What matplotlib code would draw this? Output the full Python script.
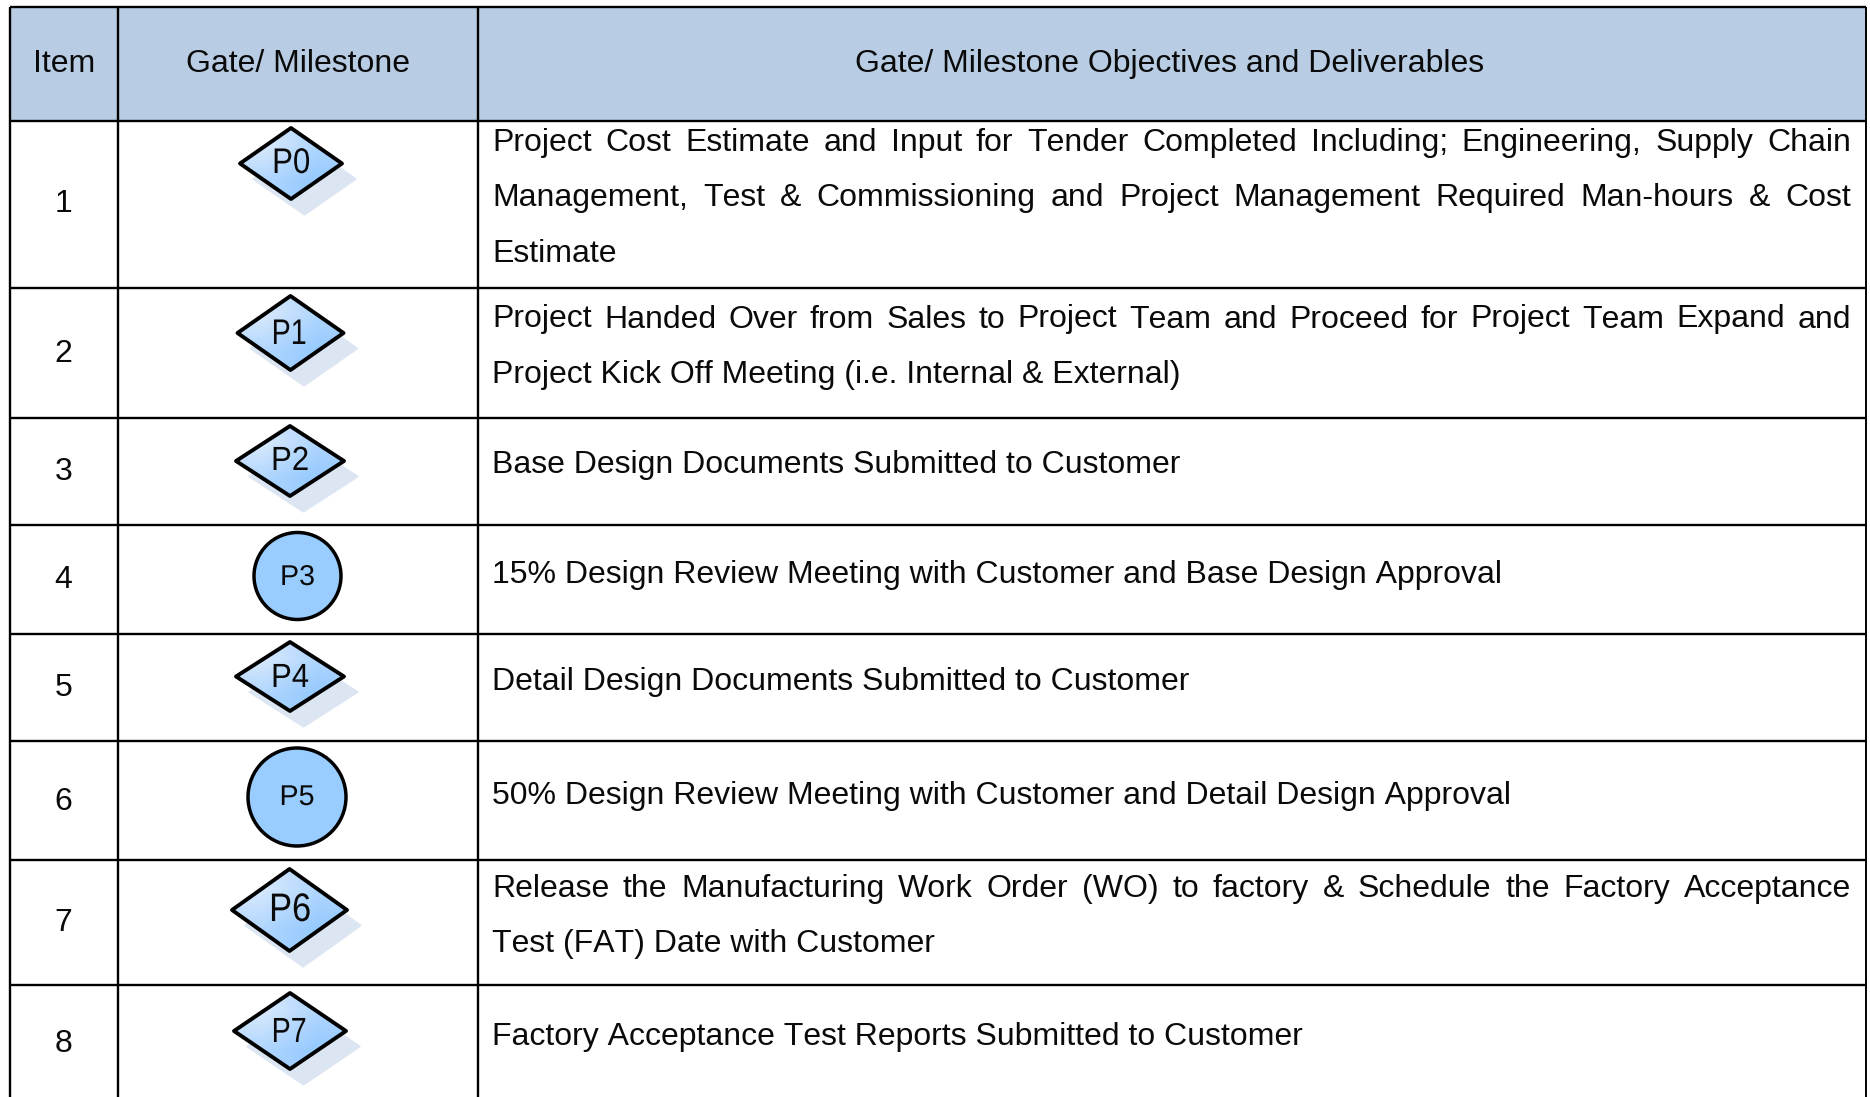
import matplotlib
matplotlib.use("Agg")
import matplotlib.pyplot as plt
import numpy as np
from matplotlib.colors import to_rgb
from matplotlib.patches import Circle, Polygon, Rectangle
from matplotlib.patheffects import AbstractPathEffect
from matplotlib.transforms import Affine2D

plt.rcParams["font.family"] = ["Liberation Sans", "DejaVu Sans"]
plt.rcParams["text.kerning_factor"] = 6

# Inhalt der Tabelle
headers = ["Item", "Gate/ Milestone", "Gate/ Milestone Objectives and Deliverables"]
items = ["1", "2", "3", "4", "5", "6", "7", "8"]
gates = ["P0", "P1", "P2", "P3", "P4", "P5", "P6", "P7"]
gate_shapes = ["d", "d", "d", "o", "d", "o", "d", "d"]
deliverables = [
    ["Project Cost Estimate and Input for Tender Completed Including; Engineering, Supply Chain",
     "Management, Test & Commissioning and Project Management Required Man-hours & Cost",
     "Estimate"],
    ["Project Handed Over from Sales to Project Team and Proceed for Project Team Expand and",
     "Project Kick Off Meeting (i.e. Internal & External)"],
    ["Base Design Documents Submitted to Customer"],
    ["15% Design Review Meeting with Customer and Base Design Approval"],
    ["Detail Design Documents Submitted to Customer"],
    ["50% Design Review Meeting with Customer and Detail Design Approval"],
    ["Release the Manufacturing Work Order (WO) to factory & Schedule the Factory Acceptance",
     "Test (FAT) Date with Customer"],
    ["Factory Acceptance Test Reports Submitted to Customer"],
]

# Layout in Pixeln des Originals
W, H = 1870, 1097
col_x = [10, 118, 478, 1866]
row_y = [7, 120.5, 287.5, 417.5, 525, 634, 740.5, 860, 985]
header_base = 72
item_base = [212.5, 362, 480.5, 587.5, 696, 809.5, 931, 1051.5]
text_base = [[150.7, 205.7, 261.7], [327.5, 382.5], [473], [582.5], [690], [804], [897, 952], [1044.5]]
text_left, text_right = 492, 1851
FS = 23.05

# Gate-Symbole: Mitte x, Mitte y, halbe Breite, halbe Höhe
gate_box = [(291, 163.5, 51, 35.5), (290.5, 333, 53, 37), (290, 461, 54, 35), (297.5, 576, 44, 44),
            (290, 676.5, 54, 34.5), (297, 797, 49.5, 49.5), (289.5, 910, 57.5, 41), (290, 1031, 56, 38)]
gate_label = [(291, 173, 25.5, 38), (289, 344, 25.5, 35), (290, 470, 24, 38), (297.5, 585, 20.5, 35),
              (290, 687, 24, 38), (297, 805, 20.5, 36), (290, 921, 28.5, 42), (289, 1042, 25, 35)]
shadow_dx, shadow_dy = 13.5, 15.5


class ScaleX(AbstractPathEffect):
    """Schmalere Schrift: Textpfad horizontal um seine Mitte stauchen."""

    def __init__(self, sx):
        super().__init__()
        self.sx = sx

    def draw_path(self, renderer, gc, tpath, affine, rgbFace=None):
        ext = tpath.get_extents()
        mid = (ext.x0 + ext.x1) / 2
        squeeze = Affine2D().translate(-mid, 0).scale(self.sx, 1).translate(mid, 0)
        renderer.draw_path(gc, tpath, squeeze + affine, rgbFace)


def draw_justified(ax, renderer, line, y, justify):
    if not justify:
        ax.text(text_left, y, line, fontsize=FS, va="baseline", ha="left", color="#0a0a0a")
        return
    words = line.split(" ")
    texts = [ax.text(0, y, w, fontsize=FS, va="baseline", ha="left", color="#0a0a0a") for w in words]
    widths = [t.get_window_extent(renderer).width for t in texts]
    gap = (text_right - text_left - sum(widths)) / (len(words) - 1)
    x = text_left
    for t, w in zip(texts, widths):
        t.set_x(x)
        x += w + gap


fig = plt.figure(figsize=(W / 100, H / 100), dpi=100)
ax = fig.add_axes([0, 0, 1, 1])
ax.axis("off")
renderer = fig.canvas.get_renderer()

# Kopfzeile
ax.add_patch(Rectangle((col_x[0], row_y[0]), col_x[-1] - col_x[0], row_y[1] - row_y[0], fc="#b8cce4", ec="none"))
for i, h in enumerate(headers):
    ax.text((col_x[i] + col_x[i + 1]) / 2 - (2 if i == 2 else 0), header_base, h, fontsize=FS, ha="center",
            va="baseline", color="#0a0a0a")

# Gitterlinien
for y in row_y:
    ax.plot([col_x[0], col_x[-1]], [y, y], color="black", lw=1.7, solid_capstyle="butt", zorder=3)
for x in col_x:
    ax.plot([x, x], [row_y[0], H], color="black", lw=1.7 if x != col_x[-1] else 1.4, solid_capstyle="butt", zorder=3)

# Zeilen
grad = np.array([[to_rgb("#d8e9fc"), to_rgb("#b0d6fe")], [to_rgb("#b0d6fe"), to_rgb("#94c9ff")]])
for r in range(len(items)):
    ax.text(63.5, item_base[r], items[r], fontsize=FS, ha="center", va="baseline", color="#0a0a0a")

    cx, cy, hw, hh = gate_box[r]
    if gate_shapes[r] == "o":
        ax.add_patch(Circle((cx, cy), hw - 0.5, fc="#99ccff", ec="black", lw=2.5, zorder=4))
    else:
        pts = np.array([(cx - hw, cy), (cx, cy - hh), (cx + hw, cy), (cx, cy + hh)])
        ax.add_patch(Polygon(pts + (shadow_dx, shadow_dy), fc="#dce5f2", ec="#dce5f2", lw=1.5, joinstyle="round", zorder=2))
        im = ax.imshow(grad, extent=(cx - hw, cx + hw, cy + hh, cy - hh), interpolation="bilinear", aspect="auto", zorder=4)
        poly = Polygon(pts, fc="none", ec="black", lw=2.8, joinstyle="round", zorder=5)
        ax.add_patch(poly)
        im.set_clip_path(poly)

    lx, ly, cap, target = gate_label[r]
    size_px = cap / 0.716
    lab = ax.text(lx, ly, gates[r], fontsize=size_px * 0.72, ha="center", va="baseline", color="#0a0a0a", zorder=6)
    natural = lab.get_window_extent(renderer).width
    lab.set_path_effects([ScaleX(min(1.0, target / natural))])

    lines = deliverables[r]
    for k, line in enumerate(lines):
        draw_justified(ax, renderer, line, text_base[r][k], justify=len(line) > 80)

ax.set_xlim(0, W)
ax.set_ylim(H, 0)
fig.savefig("out.png", dpi=100, facecolor="white")
